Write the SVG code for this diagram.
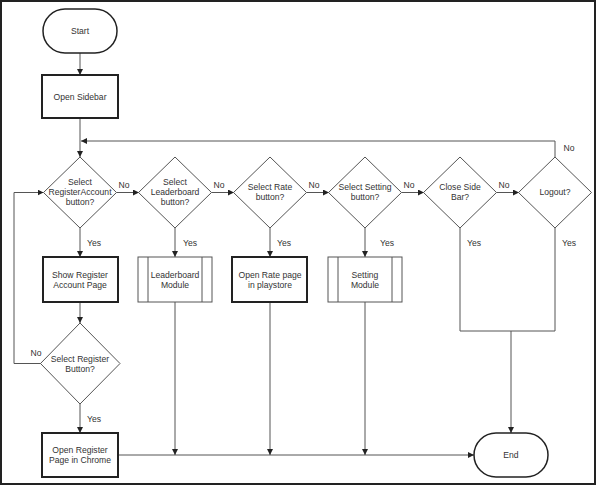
<svg xmlns="http://www.w3.org/2000/svg" width="600" height="488" viewBox="0 0 600 488">
<style>
text{font-family:"Liberation Sans",Arial,sans-serif;font-size:8.6px;fill:#333;text-anchor:middle}
.thick{fill:#fff;stroke:#222;stroke-width:2}
.thin{fill:#fff;stroke:#555;stroke-width:1}
.term{fill:#fff;stroke:#222;stroke-width:1.5}
.edge{fill:none;stroke:#555;stroke-width:1}
</style>
<defs>
<marker id="arr" viewBox="0 0 6 6" refX="6" refY="3" markerWidth="6" markerHeight="6" markerUnits="userSpaceOnUse" orient="auto">
<path d="M0,0 L6,3 L0,6 z" fill="#222"/>
</marker>
</defs>
<rect x="1" y="1" width="594" height="483" fill="#fff" stroke="#222" stroke-width="2"/>
<g id="connectors">
<path class="edge" d="M80,53 V75" marker-end="url(#arr)"/>
<path class="edge" d="M80,118 V157" marker-end="url(#arr)"/>
<path class="edge" d="M555,157 V141 H81" marker-end="url(#arr)"/>
<path class="edge" d="M116.5,192.5 H139" marker-end="url(#arr)"/>
<path class="edge" d="M211.5,192.5 H234" marker-end="url(#arr)"/>
<path class="edge" d="M306.5,192.5 H329" marker-end="url(#arr)"/>
<path class="edge" d="M401.5,192.5 H424" marker-end="url(#arr)"/>
<path class="edge" d="M496.5,192.5 H519" marker-end="url(#arr)"/>
<path class="edge" d="M80,228 V257" marker-end="url(#arr)"/>
<path class="edge" d="M175,228 V257" marker-end="url(#arr)"/>
<path class="edge" d="M270,228 V257" marker-end="url(#arr)"/>
<path class="edge" d="M365,228 V257" marker-end="url(#arr)"/>
<path class="edge" d="M460,228 V331 H555 V228"/>
<path class="edge" d="M511,331 V433" marker-end="url(#arr)"/>
<path class="edge" d="M80,302 V323" marker-end="url(#arr)"/>
<path class="edge" d="M41,363.5 H14 V192.5 H43.5" marker-end="url(#arr)"/>
<path class="edge" d="M80,404 V433" marker-end="url(#arr)"/>
<path class="edge" d="M118,455 H474" marker-end="url(#arr)"/>
<path class="edge" d="M175,302 V455" marker-end="url(#arr)"/>
<path class="edge" d="M270,302 V455" marker-end="url(#arr)"/>
<path class="edge" d="M365,302 V455" marker-end="url(#arr)"/>
<text x="124" y="188">No</text>
<text x="219" y="188">No</text>
<text x="314" y="188">No</text>
<text x="409" y="188">No</text>
<text x="504" y="188">No</text>
<text x="569" y="151">No</text>
<text x="36" y="356">No</text>
<text x="94" y="246">Yes</text>
<text x="190" y="246">Yes</text>
<text x="284" y="246">Yes</text>
<text x="387" y="246">Yes</text>
<text x="474" y="246">Yes</text>
<text x="569" y="246">Yes</text>
<text x="94" y="422">Yes</text>
</g>
<g id="start">
<rect class="term" x="43" y="9" width="74" height="44" rx="22" ry="22"/>
<text x="80" y="34">Start</text>
</g>
<g id="open-sidebar">
<rect class="thick" x="42" y="75" width="76" height="43"/>
<text x="80" y="100">Open Sidebar</text>
</g>
<g id="d-register-account">
<polygon class="thin" points="80,157 116.5,192.5 80,228 43.5,192.5"/>
<text x="80" y="185">Select</text>
<text x="80" y="195">RegisterAccount</text>
<text x="80" y="205">button?</text>
</g>
<g id="d-leaderboard">
<polygon class="thin" points="175,157 211.5,192.5 175,228 138.5,192.5"/>
<text x="175" y="185">Select</text>
<text x="175" y="195">Leaderboard</text>
<text x="175" y="205">button?</text>
</g>
<g id="d-rate">
<polygon class="thin" points="270,157 306.5,192.5 270,228 233.5,192.5"/>
<text x="270" y="190">Select Rate</text>
<text x="270" y="200">button?</text>
</g>
<g id="d-setting">
<polygon class="thin" points="365,157 401.5,192.5 365,228 328.5,192.5"/>
<text x="365" y="190">Select Setting</text>
<text x="365" y="200">button?</text>
</g>
<g id="d-close">
<polygon class="thin" points="460,157 496.5,192.5 460,228 423.5,192.5"/>
<text x="460" y="190">Close Side</text>
<text x="460" y="200">Bar?</text>
</g>
<g id="d-logout">
<polygon class="thin" points="555,157 591.5,192.5 555,228 518.5,192.5"/>
<text x="555" y="195">Logout?</text>
</g>
<g id="show-register">
<rect class="thick" x="43" y="257" width="75" height="45"/>
<text x="80" y="278">Show Register</text>
<text x="80" y="288">Account Page</text>
</g>
<g id="leaderboard-module">
<rect class="thin" x="138" y="257" width="74" height="45"/>
<line class="thin" x1="148" y1="257" x2="148" y2="302"/>
<line class="thin" x1="202" y1="257" x2="202" y2="302"/>
<text x="175" y="278">Leaderboard</text>
<text x="175" y="288">Module</text>
</g>
<g id="open-rate">
<rect class="thick" x="232" y="257" width="75" height="45"/>
<text x="270" y="278">Open Rate page</text>
<text x="270" y="288">in playstore</text>
</g>
<g id="setting-module">
<rect class="thin" x="328" y="257" width="74" height="45"/>
<line class="thin" x1="338" y1="257" x2="338" y2="302"/>
<line class="thin" x1="392" y1="257" x2="392" y2="302"/>
<text x="365" y="278">Setting</text>
<text x="365" y="288">Module</text>
</g>
<g id="d-register-button">
<polygon class="thin" points="80,323 120,363.5 80,404 40.5,363.5"/>
<text x="80" y="362">Select Register</text>
<text x="80" y="372">Button?</text>
</g>
<g id="open-register">
<rect class="thick" x="42" y="433" width="76" height="44"/>
<text x="80" y="453">Open Register</text>
<text x="80" y="463">Page in Chrome</text>
</g>
<g id="end">
<rect class="term" x="474" y="433" width="74" height="44" rx="22" ry="22"/>
<text x="511" y="458">End</text>
</g>
</svg>
